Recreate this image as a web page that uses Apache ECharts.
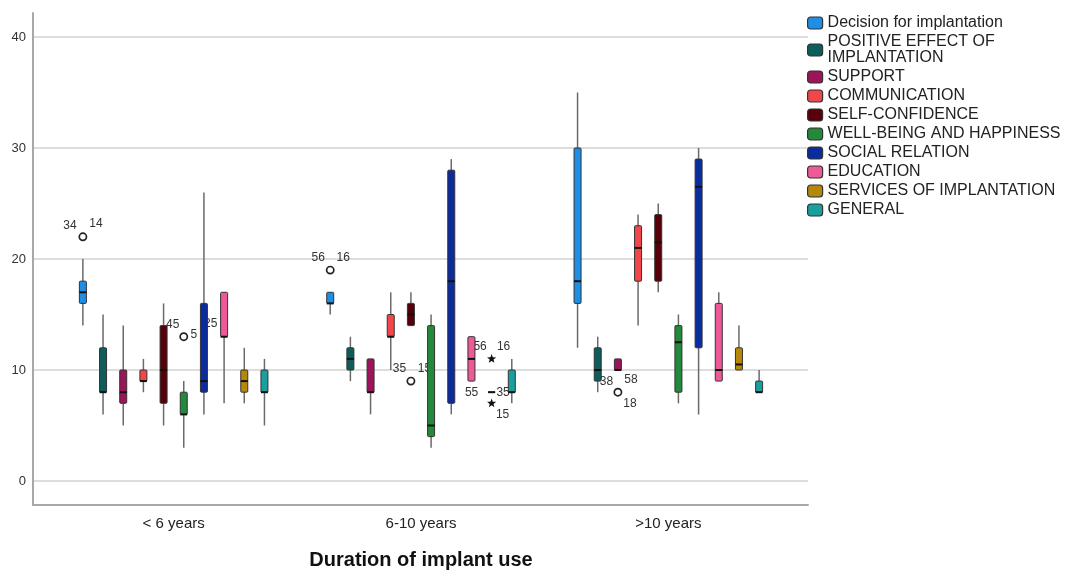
<!DOCTYPE html>
<html>
<head>
<meta charset="utf-8">
<script src="https://cdn.jsdelivr.net/npm/echarts@6/dist/echarts.min.js"></script>
<style>html,body{margin:0;padding:0;background:#fff;}#c{width:1072px;height:571px;}</style>
</head>
<body>
<div id="c"></div>
<script>
// ---- data ----
const categories = ['< 6 years', '6-10 years', '>10 years'];
const seriesNames = ['Decision for implantation', 'POSITIVE EFFECT OF\nIMPLANTATION', 'SUPPORT', 'COMMUNICATION', 'SELF-CONFIDENCE', 'WELL-BEING AND HAPPINESS', 'SOCIAL RELATION', 'EDUCATION', 'SERVICES OF IMPLANTATION', 'GENERAL'];
// [min, Q1, median, Q3, max] per duration group
const decision      = [[14, 16, 17, 18, 20], [15, 16, 16, 17, 17], [12, 16, 18, 30, 35]];
const positive      = [[6, 8, 8, 12, 15], [9, 10, 11, 12, 13], [8, 9, 10, 12, 13]];
const support       = [[5, 7, 8, 10, 14], [6, 8, 8, 11, 11], [10, 10, 10, 11, 11]];
const communication = [[8, 9, 9, 10, 11], [10, 13, 13, 15, 17], [14, 18, 21, 23, 24]];
const selfConf      = [[5, 7, 10, 14, 16], [14, 14, 15, 16, 17], [17, 18, 21.5, 24, 25]];
const wellBeing     = [[3, 6, 6, 8, 9], [3, 4, 5, 14, 15], [7, 8, 12.5, 14, 15]];
const social        = [[6, 8, 9, 16, 26], [6, 7, 18, 28, 29], [6, 12, 26.5, 29, 30]];
const education     = [[7, 13, 13, 17, 17], [9, 9, 11, 13, 13], [9, 9, 10, 16, 17]];
const services      = [[7, 8, 9, 10, 12], [8, 8, 8, 8, 8], [10, 10, 10.5, 12, 14]];
const general       = [[5, 8, 8, 10, 11], [7, 8, 8, 10, 11], [8, 8, 8, 9, 10]];
const allBoxes = [decision, positive, support, communication, selfConf, wellBeing, social, education, services, general];
// outliers: [group, series index, value, marker kind]
const outliers = [
  [0, 0, 22, 'circle'], [0, 5, 13, 'circle'], [1, 0, 19, 'circle'], [1, 4, 9, 'circle'],
  [1, 8, 11, 'star'], [1, 8, 7, 'star'], [1, 8, 8, 'none'], [2, 2, 8, 'circle']
];
const outlierLabels = [['34', '14'], ['45', '5', '25'], ['56', '16'], ['35', '15'], ['56', '16'], ['15'], ['55', '35'], ['38', '58', '18']];
const yTicks = [0, 10, 20, 30, 40];

// ---- styles ----
const colors = ['#1f8fe6', '#0d5e5a', '#9c1558', '#f1474b', '#560009', '#23893b', '#0b2c9f', '#ee5a97', '#b5880a', '#1a9f9f'];
const labelOffsets = [
  [[-13, -11], [13, -13]],
  [[-11, -12], [10, -2], [27, -13]],
  [[-12, -12], [13, -12]],
  [[-11.5, -12], [13.5, -12]],
  [[-11.5, -12], [12, -12]],
  [[11, 11]],
  [[-20, 0], [11.5, 0]],
  [[-11.5, -11], [13, -13], [12, 11.5]]
];
const FONT = '"Liberation Sans", Arial, sans-serif';
const N = seriesNames.length;
const BOXW = 7;

function slotX(api, g, i) {
  const bw = api.size([1, 0])[0];
  const avail = bw * 0.8 - 2;
  const gap = avail / N * 0.3;
  const boxW = (avail - gap * (N - 1)) / N;
  const base = boxW / 2 - avail / 2;
  return api.coord([g, 0])[0] + base + i * (boxW + gap);
}

const chart = echarts.init(document.getElementById('c'), null, {renderer: 'canvas'});

const boxSeries = allBoxes.map((arr, i) => ({
  name: seriesNames[i],
  type: 'custom',
  xAxisIndex: 2, yAxisIndex: 2,
  z: 3,
  itemStyle: {color: colors[i], borderColor: '#333', borderWidth: 1},
  encode: {x: 0, y: [1, 2, 3, 4, 5]},
  data: arr.map((b, g) => [g].concat(b)),
  renderItem: function (params, api) {
    const g = api.value(0);
    const cx = slotX(api, g, i);
    const y = k => api.coord([g, api.value(k)])[1];
    const yMin = y(1), yQ1 = y(2), yMed = y(3), yQ3 = y(4), yMax = y(5);
    return {
      type: 'group',
      children: [
        {type: 'line', shape: {x1: cx, y1: yMax, x2: cx, y2: yMin}, style: {stroke: '#6a6a6a', lineWidth: 1.5}},
        {type: 'rect', shape: {x: cx - BOXW / 2, y: yQ3, width: BOXW, height: yQ1 - yQ3, r: 1}, style: {fill: colors[i], stroke: '#333', lineWidth: 1}},
        {type: 'line', shape: {x1: cx - BOXW / 2, y1: yMed, x2: cx + BOXW / 2, y2: yMed}, style: {stroke: '#111', lineWidth: 2}}
      ]
    };
  }
}));

function starPoints(cx, cy, R, r) {
  const pts = [];
  for (let k = 0; k < 10; k++) {
    const a = -Math.PI / 2 + k * Math.PI / 5;
    const rad = k % 2 === 0 ? R : r;
    pts.push([cx + rad * Math.cos(a), cy + rad * Math.sin(a)]);
  }
  return pts;
}

const outlierSeries = {
  name: 'outliers',
  type: 'custom',
  xAxisIndex: 2, yAxisIndex: 2,
  z: 2,
  silent: true,
  encode: {x: 0, y: 2},
  data: outliers.map((o, idx) => [o[0], o[1], o[2], idx]),
  renderItem: function (params, api) {
    const g = api.value(0), si = api.value(1), v = api.value(2), idx = api.value(3);
    const cx = slotX(api, g, si);
    const cy = api.coord([g, v])[1];
    const kind = outliers[idx][3];
    const children = [];
    if (kind === 'circle') {
      children.push({type: 'circle', shape: {cx: cx, cy: cy, r: 3.6}, style: {fill: 'none', stroke: '#222', lineWidth: 1.7}});
    } else if (kind === 'star') {
      children.push({type: 'polygon', shape: {points: starPoints(cx, cy, 4.8, 2)}, style: {fill: '#111'}});
    }
    outlierLabels[idx].forEach((t, j) => {
      const off = labelOffsets[idx][j];
      children.push({type: 'text', style: {text: t, x: cx + off[0], y: cy + off[1], align: 'center', verticalAlign: 'middle', fill: '#333', font: '12px ' + FONT}});
    });
    return {type: 'group', children: children};
  }
};

const option = {
  animation: false,
  backgroundColor: '#fff',
  textStyle: {fontFamily: FONT},
  grid: [
    {left: 33, right: 264, top: 13, bottom: 66, outerBoundsMode: 'none', containLabel: false},
    {left: 33, right: 264, top: 37, bottom: 90, outerBoundsMode: 'none', containLabel: false},
    {left: 50, right: 280, top: 37, bottom: 90, outerBoundsMode: 'none', containLabel: false}
  ],
  xAxis: [
    {gridIndex: 0, type: 'value', min: 0, max: 1, position: 'bottom',
     axisLine: {show: true, onZero: false, lineStyle: {color: '#a8a8a8', width: 2}},
     axisTick: {show: false}, axisLabel: {show: false}, splitLine: {show: false}},
    {gridIndex: 1, type: 'value', min: 0, max: 1, show: false},
    {gridIndex: 2, type: 'category', data: categories,
     axisLine: {show: false}, axisTick: {show: false},
     axisLabel: {margin: 35, fontSize: 15, color: '#222', fontFamily: FONT},
     name: 'Duration of implant use', nameLocation: 'middle', nameGap: 69,
     nameTextStyle: {fontSize: 20, fontWeight: 'bold', color: '#111', fontFamily: FONT}}
  ],
  yAxis: [
    {gridIndex: 0, type: 'value', min: 0, max: 1,
     axisLine: {show: true, onZero: false, lineStyle: {color: '#a8a8a8', width: 2}},
     axisTick: {show: false}, axisLabel: {show: false}, splitLine: {show: false}},
    {gridIndex: 1, type: 'value', min: yTicks[0], max: yTicks[yTicks.length - 1], interval: yTicks[1] - yTicks[0],
     axisLine: {show: false}, axisTick: {show: false},
     axisLabel: {margin: 7, fontSize: 13, color: '#333', fontFamily: FONT},
     splitLine: {show: true, lineStyle: {color: '#d2d2d2', width: 1.5}}},
    {gridIndex: 2, type: 'value', min: yTicks[0], max: yTicks[yTicks.length - 1], show: false}
  ],
  legend: {
    orient: 'vertical', left: 807, top: 15, padding: 0,
    itemWidth: 15, itemHeight: 12, itemGap: 3,
    icon: 'roundRect',
    textStyle: {fontSize: 16, lineHeight: 16, color: '#222', fontFamily: FONT},
    data: seriesNames.map((n, i) => ({name: n, itemStyle: {color: colors[i], borderColor: '#333', borderWidth: 1.2}}))
  },
  series: boxSeries.concat([outlierSeries])
};
chart.setOption(option);
</script>
</body>
</html>
